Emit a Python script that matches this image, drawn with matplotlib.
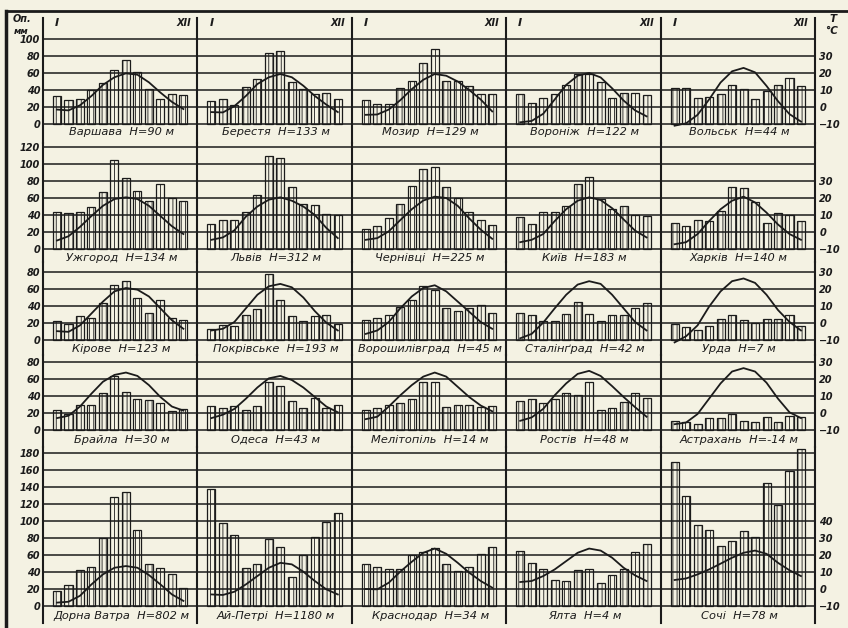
import numpy as np
import matplotlib.pyplot as plt
from matplotlib.lines import Line2D

# климатограммы: осадки (мм) столбиками, температура (°C) кривой
months = np.arange(1, 13)

names = ['Варшава', 'Берестя', 'Мозир', 'Воронiж', 'Вольськ',
         'Ужгород', 'Львів', 'Чернівці', 'Київ', 'Харків',
         'Кірове', 'Покрівське', 'Ворошилівград', 'Сталінґрад', 'Урда',
         'Брайла', 'Одеса', 'Мелітопіль', 'Ростів', 'Астрахань',
         'Дорна Ватра', 'Ай-Петрі', 'Краснодар', 'Ялта', 'Сочі']
heights = [90, 133, 129, 122, 44,
           134, 312, 225, 183, 140,
           123, 193, 45, 42, 7,
           30, 43, 14, 48, -14,
           802, 1180, 34, 4, 78]

precip = [
    [33, 28, 30, 40, 48, 63, 75, 61, 41, 29, 35, 34],
    [27, 29, 22, 44, 53, 83, 86, 50, 41, 35, 36, 30],
    [28, 24, 24, 42, 51, 72, 88, 51, 51, 45, 35, 35],
    [35, 25, 31, 35, 46, 59, 59, 50, 31, 36, 36, 34],
    [42, 42, 31, 32, 35, 46, 41, 30, 39, 46, 54, 45],
    [44, 42, 44, 50, 67, 105, 84, 68, 57, 77, 60, 57],
    [30, 34, 34, 44, 63, 109, 107, 73, 53, 52, 41, 40],
    [23, 27, 37, 53, 74, 94, 96, 73, 60, 44, 34, 28],
    [38, 30, 44, 43, 51, 76, 85, 59, 47, 51, 40, 39],
    [31, 27, 34, 33, 45, 73, 72, 55, 31, 42, 40, 33],
    [22, 19, 28, 26, 44, 65, 70, 50, 32, 47, 26, 24],
    [13, 18, 17, 29, 37, 78, 47, 28, 22, 28, 30, 19],
    [23, 26, 29, 39, 47, 63, 59, 38, 34, 38, 41, 32],
    [32, 30, 22, 22, 31, 45, 31, 22, 30, 30, 38, 43],
    [19, 15, 12, 17, 25, 30, 24, 20, 25, 25, 30, 17],
    [24, 19, 30, 30, 44, 63, 45, 36, 35, 32, 22, 25],
    [28, 26, 28, 24, 28, 57, 52, 34, 26, 38, 26, 30],
    [23, 26, 30, 32, 36, 56, 57, 27, 30, 30, 27, 28],
    [34, 37, 32, 37, 44, 41, 56, 23, 26, 33, 43, 38],
    [11, 10, 7, 14, 14, 19, 11, 10, 15, 10, 16, 15],
    [18, 25, 42, 46, 80, 128, 134, 89, 50, 45, 38, 21],
    [138, 98, 84, 45, 50, 79, 70, 34, 60, 81, 99, 110],
    [49, 46, 44, 44, 60, 64, 68, 49, 41, 46, 61, 69],
    [65, 51, 44, 31, 29, 42, 44, 27, 36, 43, 63, 73],
    [170, 130, 95, 90, 71, 76, 88, 81, 145, 119, 159, 185],
]

temp = [
    [-1.5, -2, 1, 6.5, 13, 17.5, 19.8, 19, 14.5, 8.5, 3, -1.2],
    [-3, -3.2, 0.5, 6.5, 13.5, 17.5, 19.4, 17.5, 12.5, 6.5, 1.4, -3],
    [-4.6, -4.4, -1.5, 4, 10.5, 16, 19.4, 18.4, 15, 10, 4.4, -2.6],
    [-9, -8.2, -4, 4.4, 13, 18.4, 20, 17.4, 11, 3.8, -2, -5.5],
    [-11, -9.6, -4.6, 4.4, 14.4, 21, 23, 20.4, 12.4, 3.4, -4.2, -8.6],
    [-5, -2.5, 3, 9.4, 15.4, 19.4, 20.4, 19.4, 15.4, 9.4, 3.4, -1.2],
    [-4.6, -3.2, 1, 9, 15, 19, 20.4, 18.4, 15, 10, 2.4, -3.6],
    [-4.6, -3.6, 0.4, 7, 13.4, 18.5, 20.8, 20, 15.4, 8, 1.4, -4],
    [-6, -4.6, -1.2, 6.4, 13.4, 18.4, 20.4, 18.8, 14, 7.4, 0.8, -3.2],
    [-7.2, -6, -1.2, 6.4, 13.4, 18.4, 20.8, 17.4, 11.4, 4.4, -1.2, -4.6],
    [-4.8, -5.2, -1.4, 5.6, 12.6, 18.6, 20.6, 19.6, 15.6, 8.6, 1.6, -3.4],
    [-4.4, -3.4, 0.6, 8.6, 16.6, 21.6, 23, 21, 15, 7, 0.2, -4.4],
    [-6.4, -4.4, 0.6, 8.6, 15.6, 20.6, 22.2, 18.6, 12.6, 6.6, 0.6, -3.4],
    [-9, -6.4, 0.2, 8.6, 16.6, 22.6, 24.6, 23, 16.6, 8.6, 0.6, -4.4],
    [-11.4, -7.8, -1.4, 9.6, 18.6, 24.6, 26.2, 23.6, 16.6, 7.6, 0.6, -4.4],
    [-3, -1.6, 3.8, 11.4, 18.4, 22.4, 23.8, 21.8, 16.4, 9.4, 3.8, 1.4],
    [-3, -1, 2.4, 8.4, 15, 20.4, 21.8, 19.4, 15, 9.4, 3.8, 0.4],
    [-3.6, -2.2, 3.8, 10.4, 16.4, 21.4, 23.8, 21.4, 15.4, 9.4, 4.4, 1],
    [-4.6, -2.6, 2.4, 10.4, 17.4, 23, 24.8, 21.8, 15.8, 9.4, 3.4, -2.2],
    [-6.6, -5.6, -0.6, 8.4, 17.4, 24.4, 26.4, 24.4, 17.8, 8.4, 0.4, -3],
    [-8, -7.5, -4, 2.7, 8.6, 12.5, 13.5, 12.5, 8.2, 2.7, -3.2, -7],
    [-3.2, -3.5, -1.6, 2.7, 7.6, 12.5, 15.4, 14.5, 10.2, 4.7, -0.2, -3.2],
    [0, -0.2, 3.7, 10.2, 16, 21.3, 23.8, 20.7, 15.4, 9.6, 4.7, 0.8],
    [4.1, 4.7, 7.6, 11.5, 16.4, 21.3, 23.8, 22.6, 18.4, 12.5, 8, 4.7],
    [5.3, 6.2, 8.6, 11.5, 14.9, 18.4, 21.3, 22.6, 20.7, 15.4, 11, 7.6],
]

grid_max = [100, 120, 80, 80, 180]   # мм, левая шкала
temp_max = [30, 30, 30, 30, 40]      # °C, правая шкала

bg = '#f4f2e3'
ink = '#1b1b1b'
plt.rcParams['hatch.linewidth'] = 0.6
plt.rcParams['hatch.color'] = ink

W, H = 848, 628
fig = plt.figure(figsize=(W / 100, H / 100), dpi=100, facecolor=bg)

# пиксельная разметка: верх, линия 0 мм, низ каждой строки
col_x = np.linspace(43, 815, 6)
rows_px = [(18, 124, 143), (143, 249, 262), (262, 340, 355), (355, 430, 447), (447, 606, 623)]
label_px = [132, 258, 349, 440, 616]
s = 0.85  # px на мм

mm2t = lambda mm: mm / 2 - 10
t2mm = lambda t: 2 * (t + 10)

for r in range(5):
    top, zero, bot = rows_px[r]
    for c in range(5):
        i = r * 5 + c
        x0, x1 = col_x[c], col_x[c + 1]
        ax = fig.add_axes([x0 / W, 1 - bot / H, (x1 - x0) / W, (bot - top) / H])
        ax.set_facecolor('none')
        ax.set_xlim(1 - 14 / 11.5, 12 + 14 / 11.5)
        ax.set_ylim(-(bot - zero) / s, (zero - top) / s)
        for g in range(0, grid_max[r] + 1, 20):
            ax.axhline(g, color=ink, lw=1.1, zorder=1)
        ax.bar(months, precip[i], width=0.7, facecolor='none', edgecolor=ink,
               hatch='||||', lw=0.9, zorder=2)
        ax.plot(months, t2mm(np.array(temp[i])), color=ink, lw=1.3, zorder=3)
        ax.text(6.6, (zero - label_px[r]) / s, f'{names[i]}  H={heights[i]} м',
                ha='center', va='center', style='italic', fontsize=8.2, color=ink)
        if r == 0:
            ax.text(1, (zero - 23) / s, 'I', ha='center', va='center',
                    style='italic', fontweight='bold', fontsize=8, color=ink)
            ax.text(12, (zero - 23) / s, 'XII', ha='center', va='center',
                    style='italic', fontweight='bold', fontsize=7, color=ink)
        for sp in ['top', 'bottom']:
            ax.spines[sp].set_visible(False)
        ax.spines['left'].set_linewidth(1.5)
        ax.spines['left'].set_color(ink)
        ax.spines['right'].set_visible(c == 4)
        ax.spines['right'].set_linewidth(1.5)
        ax.spines['right'].set_color(ink)
        ax.set_xticks([])
        if c == 0:
            ax.set_yticks(range(0, grid_max[r] + 1, 20))
            ax.tick_params(axis='y', length=0, pad=2, labelsize=7, labelcolor=ink)
            for lab in ax.get_yticklabels():
                lab.set_fontstyle('italic')
                lab.set_fontweight('bold')
        else:
            ax.set_yticks([])
        if c == 4:
            sec = ax.secondary_yaxis('right', functions=(mm2t, t2mm))
            sec.set_yticks(range(-10, temp_max[r] + 1, 10))
            sec.spines['right'].set_visible(False)
            sec.tick_params(length=0, pad=3, labelsize=7, labelcolor=ink)
            for lab in sec.get_yticklabels():
                lab.set_fontstyle('italic')
                lab.set_fontweight('bold')

# подписи осей
fig.text(22 / W, 1 - 19 / H, 'Оп.', ha='center', va='center', style='italic',
         fontweight='bold', fontsize=7, color=ink)
fig.text(21 / W, 1 - 31 / H, 'мм', ha='center', va='center', style='italic',
         fontweight='bold', fontsize=6.5, color=ink)
fig.text(833 / W, 1 - 19 / H, 'T', ha='center', va='center', style='italic',
         fontweight='bold', fontsize=7.5, color=ink)
fig.text(832 / W, 1 - 31 / H, '°C', ha='center', va='center', style='italic',
         fontweight='bold', fontsize=7.5, color=ink)

# рамка
fig.add_artist(Line2D([6 / W, 1], [1 - 11 / H, 1 - 11 / H], color=ink, lw=2))
fig.add_artist(Line2D([6 / W, 6 / W], [1 - 11 / H, 0], color=ink, lw=2.5))

fig.savefig('out.png', dpi=100, facecolor=bg)
